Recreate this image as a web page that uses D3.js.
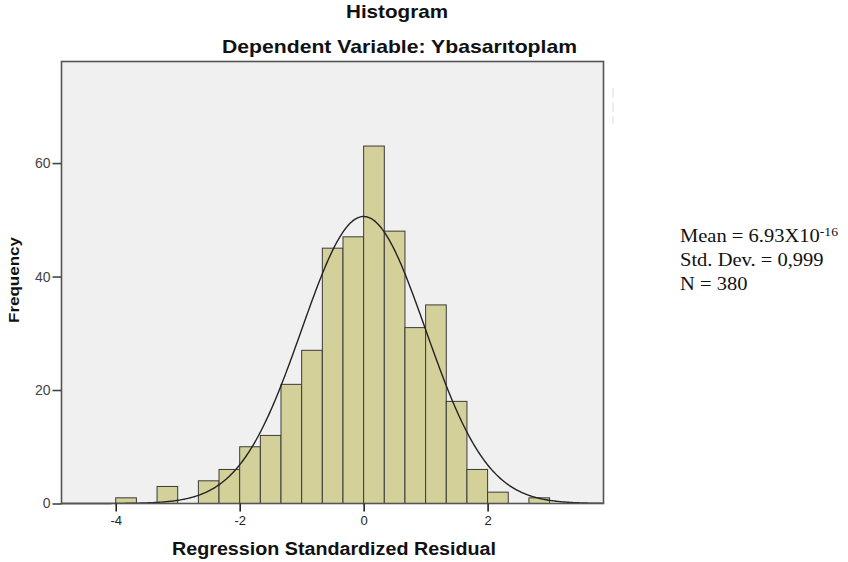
<!DOCTYPE html>
<html>
<head>
<meta charset="utf-8">
<script src="https://cdn.jsdelivr.net/npm/d3@7"></script>
<style>
  body { margin: 0; background: #fff; }
  svg { display: block; }
</style>
</head>
<body>
<div id="graph"></div>
<script>
// histogram bins (left edges, width 1/3) and counts
const binStart = -4;
const binWidth = 1 / 3;
const counts = [1, 0, 3, 0, 4, 6, 10, 12, 21, 27, 45, 47, 63, 48, 31, 35, 18, 6, 2, 0, 1];
const xTicks = [-4, -2, 0, 2];
const yTicks = [0, 20, 40, 60];
const stats = { mean: 6.93e-16, sd: 0.999, n: 380 };

const width = 848, height = 562;
const plot = { left: 61.5, top: 61.5, right: 603.5, bottom: 503.5 };
const sans = 'Arial, Liberation Sans, sans-serif';
const serif = 'Times New Roman, Liberation Serif, serif';

const svg = d3.select('#graph')
    .append('svg')
    .attr('width', width)
    .attr('height', height);

const xScale = d3.scaleLinear()
    .domain([-4.875, 3.87])
    .range([plot.left, plot.right]);

const yScale = d3.scaleLinear()
    .domain([0, 77.9])
    .range([plot.bottom, plot.top]);

// plot background
svg.append('rect')
    .attr('x', plot.left)
    .attr('y', plot.top)
    .attr('width', plot.right - plot.left)
    .attr('height', plot.bottom - plot.top)
    .attr('fill', '#f0f0f0');

// bars
const bins = counts.map((c, i) => ({ x0: binStart + i * binWidth, x1: binStart + (i + 1) * binWidth, count: c }));
svg.selectAll('rect.bar')
    .data(bins.filter(d => d.count > 0))
    .enter()
    .append('rect')
    .attr('class', 'bar')
    .attr('x', d => xScale(d.x0))
    .attr('y', d => yScale(d.count))
    .attr('width', d => xScale(d.x1) - xScale(d.x0))
    .attr('height', d => yScale(0) - yScale(d.count))
    .attr('fill', '#d4d09a')
    .attr('stroke', '#3a3a3a')
    .attr('stroke-width', 1);

// normal curve scaled to the histogram
const amp = stats.n * binWidth / (stats.sd * Math.sqrt(2 * Math.PI));
const curve = d3.range(-4.875, 3.87, 0.02).map(x => [x, amp * Math.exp(-Math.pow(x - stats.mean, 2) / (2 * stats.sd * stats.sd))]);
svg.append('path')
    .datum(curve)
    .attr('fill', 'none')
    .attr('stroke', '#222')
    .attr('stroke-width', 1.4)
    .attr('d', d3.line().x(d => xScale(d[0])).y(d => yScale(d[1])));

// frame
svg.append('rect')
    .attr('x', plot.left)
    .attr('y', plot.top)
    .attr('width', plot.right - plot.left)
    .attr('height', plot.bottom - plot.top)
    .attr('fill', 'none')
    .attr('stroke', '#555')
    .attr('stroke-width', 1.6);

// axes
const xAxis = d3.axisBottom(xScale).tickValues(xTicks).tickSize(8).tickPadding(4.5).tickFormat(d => String(d));
svg.append('g')
    .attr('transform', 'translate(0,' + plot.bottom + ')')
    .call(xAxis)
    .call(g => g.select('.domain').remove())
    .call(g => g.selectAll('line').attr('stroke', '#222').attr('stroke-width', 1.6))
    .call(g => g.selectAll('text').attr('font-family', sans).attr('font-size', 13).attr('fill', '#222'));

const yAxis = d3.axisLeft(yScale).tickValues(yTicks).tickSize(9).tickPadding(2);
svg.append('g')
    .attr('transform', 'translate(' + plot.left + ',0)')
    .call(yAxis)
    .call(g => g.select('.domain').remove())
    .call(g => g.selectAll('line').attr('stroke', '#444').attr('stroke-width', 1.6))
    .call(g => g.selectAll('text').attr('font-family', sans).attr('font-size', 14).attr('fill', '#444'));

// titles
svg.append('text')
    .text('Histogram')
    .attr('x', 397).attr('y', 18)
    .attr('text-anchor', 'middle')
    .attr('textLength', 102).attr('lengthAdjust', 'spacingAndGlyphs')
    .attr('font-family', sans).attr('font-weight', 'bold').attr('font-size', 18.5).attr('fill', '#111');

svg.append('text')
    .text('Dependent Variable: Ybasarıtoplam')
    .attr('x', 399.5).attr('y', 53)
    .attr('text-anchor', 'middle')
    .attr('textLength', 355).attr('lengthAdjust', 'spacingAndGlyphs')
    .attr('font-family', sans).attr('font-weight', 'bold').attr('font-size', 18.5).attr('fill', '#111');

svg.append('text')
    .text('Regression Standardized Residual')
    .attr('x', 334).attr('y', 555)
    .attr('text-anchor', 'middle')
    .attr('textLength', 324).attr('lengthAdjust', 'spacingAndGlyphs')
    .attr('font-family', sans).attr('font-weight', 'bold').attr('font-size', 18).attr('fill', '#111');

svg.append('text')
    .text('Frequency')
    .attr('transform', 'translate(19,280) rotate(-90)')
    .attr('text-anchor', 'middle')
    .attr('textLength', 86).attr('lengthAdjust', 'spacingAndGlyphs')
    .attr('font-family', sans).attr('font-weight', 'bold').attr('font-size', 15).attr('fill', '#111');

// stats box (slightly wide serif text)
const statsBox = svg.append('g')
    .attr('transform', 'translate(680,0) scale(1.14,1)')
    .attr('font-family', serif).attr('font-size', 18).attr('fill', '#111');

const meanText = statsBox.append('text').attr('x', 0).attr('y', 242);
meanText.append('tspan').text('Mean = 6.93X10');
meanText.append('tspan').text('-16').attr('font-size', 12).attr('dy', -6);

statsBox.append('text')
    .text('Std. Dev. = 0,999')
    .attr('x', 0).attr('y', 266.5);

statsBox.append('text')
    .text('N = ' + stats.n)
    .attr('x', 0).attr('y', 290.5);

// faint artifact to the right of the frame
svg.append('line')
    .attr('x1', 613).attr('x2', 613)
    .attr('y1', 88).attr('y2', 124)
    .attr('stroke', '#ddd')
    .attr('stroke-dasharray', '10,4');
</script>
</body>
</html>
